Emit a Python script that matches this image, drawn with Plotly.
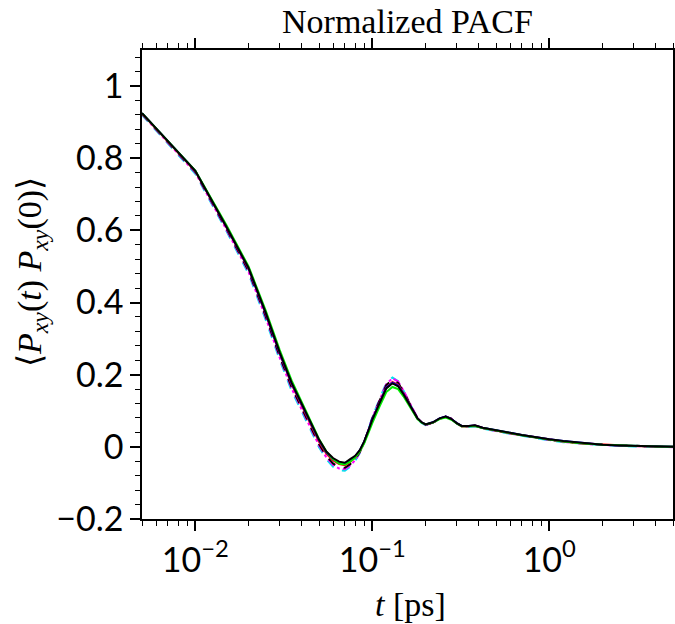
import plotly.graph_objects as go
import math

# time grid (ps)
t = [0.005, 0.01, 0.015, 0.02, 0.025, 0.03, 0.035, 0.04, 0.045, 0.05, 0.055, 0.06,
     0.065, 0.07, 0.075, 0.08, 0.085, 0.09, 0.095, 0.1, 0.11, 0.12, 0.13, 0.14, 0.15,
     0.16, 0.17, 0.18, 0.19, 0.2, 0.22, 0.24, 0.26, 0.28, 0.3, 0.32, 0.35, 0.38, 0.42,
     0.46, 0.5, 0.6, 0.7, 0.8, 1.0, 1.2, 1.5, 2.0, 2.5, 3.0, 4.0, 5.0]

pacf_black = [0.925, 0.765, 0.610, 0.496, 0.372, 0.262, 0.178, 0.120, 0.067, 0.020, -0.013, -0.031,
              -0.041, -0.044, -0.034, -0.025, -0.009, 0.015, 0.045, 0.075, 0.121, 0.162, 0.176, 0.168, 0.146,
              0.122, 0.097, 0.079, 0.068, 0.062, 0.068, 0.079, 0.084, 0.077, 0.066, 0.058, 0.058, 0.060, 0.053,
              0.049, 0.046, 0.039, 0.033, 0.028, 0.021, 0.016, 0.011, 0.006, 0.004, 0.003, 0.001, 0.000]
pacf_green = [0.925, 0.766, 0.614, 0.500, 0.378, 0.268, 0.184, 0.124, 0.070, 0.022, -0.013, -0.034,
              -0.046, -0.049, -0.041, -0.030, -0.013, 0.010, 0.038, 0.066, 0.112, 0.152, 0.166, 0.160, 0.140,
              0.118, 0.094, 0.077, 0.067, 0.062, 0.067, 0.077, 0.081, 0.075, 0.065, 0.057, 0.057, 0.058, 0.052,
              0.048, 0.045, 0.038, 0.032, 0.027, 0.020, 0.015, 0.010, 0.006, 0.004, 0.002, 0.001, 0.000]
pacf_red = [0.924, 0.764, 0.608, 0.493, 0.368, 0.258, 0.173, 0.114, 0.061, 0.014, -0.019, -0.038,
            -0.048, -0.051, -0.042, -0.030, -0.012, 0.013, 0.044, 0.075, 0.123, 0.165, 0.180, 0.172, 0.149,
            0.124, 0.098, 0.079, 0.068, 0.062, 0.067, 0.078, 0.083, 0.077, 0.065, 0.057, 0.057, 0.059, 0.053,
            0.048, 0.045, 0.038, 0.033, 0.027, 0.020, 0.015, 0.010, 0.006, 0.004, 0.002, 0.001, 0.000]
pacf_blue = [0.925, 0.765, 0.609, 0.495, 0.370, 0.260, 0.176, 0.118, 0.065, 0.018, -0.015, -0.034,
             -0.044, -0.047, -0.038, -0.027, -0.010, 0.014, 0.045, 0.076, 0.122, 0.164, 0.178, 0.170, 0.147,
             0.123, 0.097, 0.079, 0.068, 0.062, 0.068, 0.079, 0.084, 0.077, 0.066, 0.058, 0.058, 0.059, 0.053,
             0.049, 0.046, 0.039, 0.033, 0.028, 0.021, 0.016, 0.011, 0.006, 0.004, 0.003, 0.001, 0.000]
pacf_magenta = [0.922, 0.760, 0.602, 0.485, 0.358, 0.247, 0.162, 0.103, 0.050, 0.004, -0.029, -0.050,
                -0.060, -0.062, -0.052, -0.037, -0.016, 0.012, 0.046, 0.080, 0.130, 0.174, 0.190, 0.181, 0.156,
                0.129, 0.101, 0.080, 0.067, 0.061, 0.066, 0.078, 0.084, 0.078, 0.066, 0.057, 0.056, 0.058, 0.052,
                0.047, 0.044, 0.037, 0.031, 0.026, 0.019, 0.014, 0.009, 0.005, 0.003, 0.001, 0.000, -0.001]
pacf_cyan = [0.920, 0.757, 0.598, 0.480, 0.352, 0.241, 0.156, 0.097, 0.045, -0.001, -0.034, -0.055,
             -0.065, -0.066, -0.055, -0.039, -0.017, 0.012, 0.047, 0.082, 0.133, 0.177, 0.192, 0.182, 0.156,
             0.128, 0.100, 0.078, 0.066, 0.060, 0.066, 0.078, 0.084, 0.078, 0.065, 0.056, 0.055, 0.057, 0.051,
             0.046, 0.043, 0.036, 0.030, 0.025, 0.018, 0.013, 0.009, 0.005, 0.003, 0.001, 0.000, 0.000]
pacf_black_dash = [0.923, 0.762, 0.605, 0.488, 0.362, 0.251, 0.166, 0.107, 0.054, 0.008, -0.025, -0.046,
                   -0.056, -0.058, -0.048, -0.034, -0.014, 0.013, 0.046, 0.079, 0.128, 0.171, 0.186, 0.177, 0.153,
                   0.127, 0.100, 0.079, 0.067, 0.061, 0.067, 0.078, 0.084, 0.078, 0.066, 0.057, 0.057, 0.059, 0.052,
                   0.048, 0.045, 0.038, 0.032, 0.027, 0.020, 0.015, 0.010, 0.006, 0.004, 0.002, 0.001, 0.000]

x_tickvals = [0.01, 0.1, 1.0]
x_ticktext = ["10<sup>−2</sup>", "10<sup>−1</sup>", "10<sup>0</sup>"]

series = [
    (pacf_cyan, "#00e5ee", "dash"),
    (pacf_magenta, "#ff00ff", "dashdot"),
    (pacf_black_dash, "black", "dash"),
    (pacf_red, "#ff0000", "solid"),
    (pacf_blue, "#0000ff", "solid"),
    (pacf_green, "#00ee00", "solid"),
    (pacf_black, "black", "solid"),
]

fig = go.Figure()
for vals, col, dash in series:
    fig.add_trace(go.Scatter(x=t, y=vals, mode="lines",
                             line=dict(color=col, width=2, dash=dash),
                             showlegend=False))

tickfont = dict(family="Lato", size=34, color="black")
serif = "Liberation Serif"

fig.update_layout(
    width=675, height=624,
    margin=dict(l=142, r=2, t=50, b=105),
    paper_bgcolor="white", plot_bgcolor="white",
    title=dict(text="Normalized PACF", x=0.5, xref="paper", xanchor="center",
               y=1 - 21 / 624, yref="container", yanchor="middle",
               font=dict(family=serif, size=34, color="black")),
    xaxis=dict(type="log", range=[math.log10(0.005), math.log10(5)],
               tickmode="array", tickvals=x_tickvals, ticktext=x_ticktext,
               automargin=False,
               showline=True, linecolor="black", linewidth=1.5, mirror="allticks",
               ticks="outside", ticklen=10, tickwidth=1.5, tickcolor="black",
               showgrid=False, zeroline=False, tickfont=tickfont,
               minor=dict(ticks="outside", ticklen=5, tickwidth=1.2, tickcolor="black",
                          dtick="D1", showgrid=False)),
    yaxis=dict(range=[-0.2, 1.1], tick0=0, dtick=0.2, automargin=False,
               showline=True, linecolor="black", linewidth=1.5, mirror="allticks",
               ticks="outside", ticklen=10, tickwidth=1.5, tickcolor="black",
               showgrid=False, zeroline=False, tickfont=tickfont,
               minor=dict(ticks="outside", ticklen=5, tickwidth=1.2, tickcolor="black",
                          dtick=0.04, showgrid=False)),
    annotations=[
        dict(text="<i>t</i> [ps]", xref="paper", yref="paper",
             x=(410 - 142) / 531, y=(519 - 604) / 469, xanchor="center", yanchor="middle",
             showarrow=False, font=dict(family=serif, size=34, color="black")),
        dict(text="⟨<i>P</i><sub><i>xy</i></sub>(<i>t</i>) <i>P</i><sub><i>xy</i></sub>(0)⟩",
             xref="paper", yref="paper", textangle=-90,
             x=(32 - 142) / 531, y=(519 - 272) / 469, xanchor="center", yanchor="middle",
             showarrow=False, font=dict(family=serif, size=34, color="black")),
    ],
)

fig.write_html("out.html")
